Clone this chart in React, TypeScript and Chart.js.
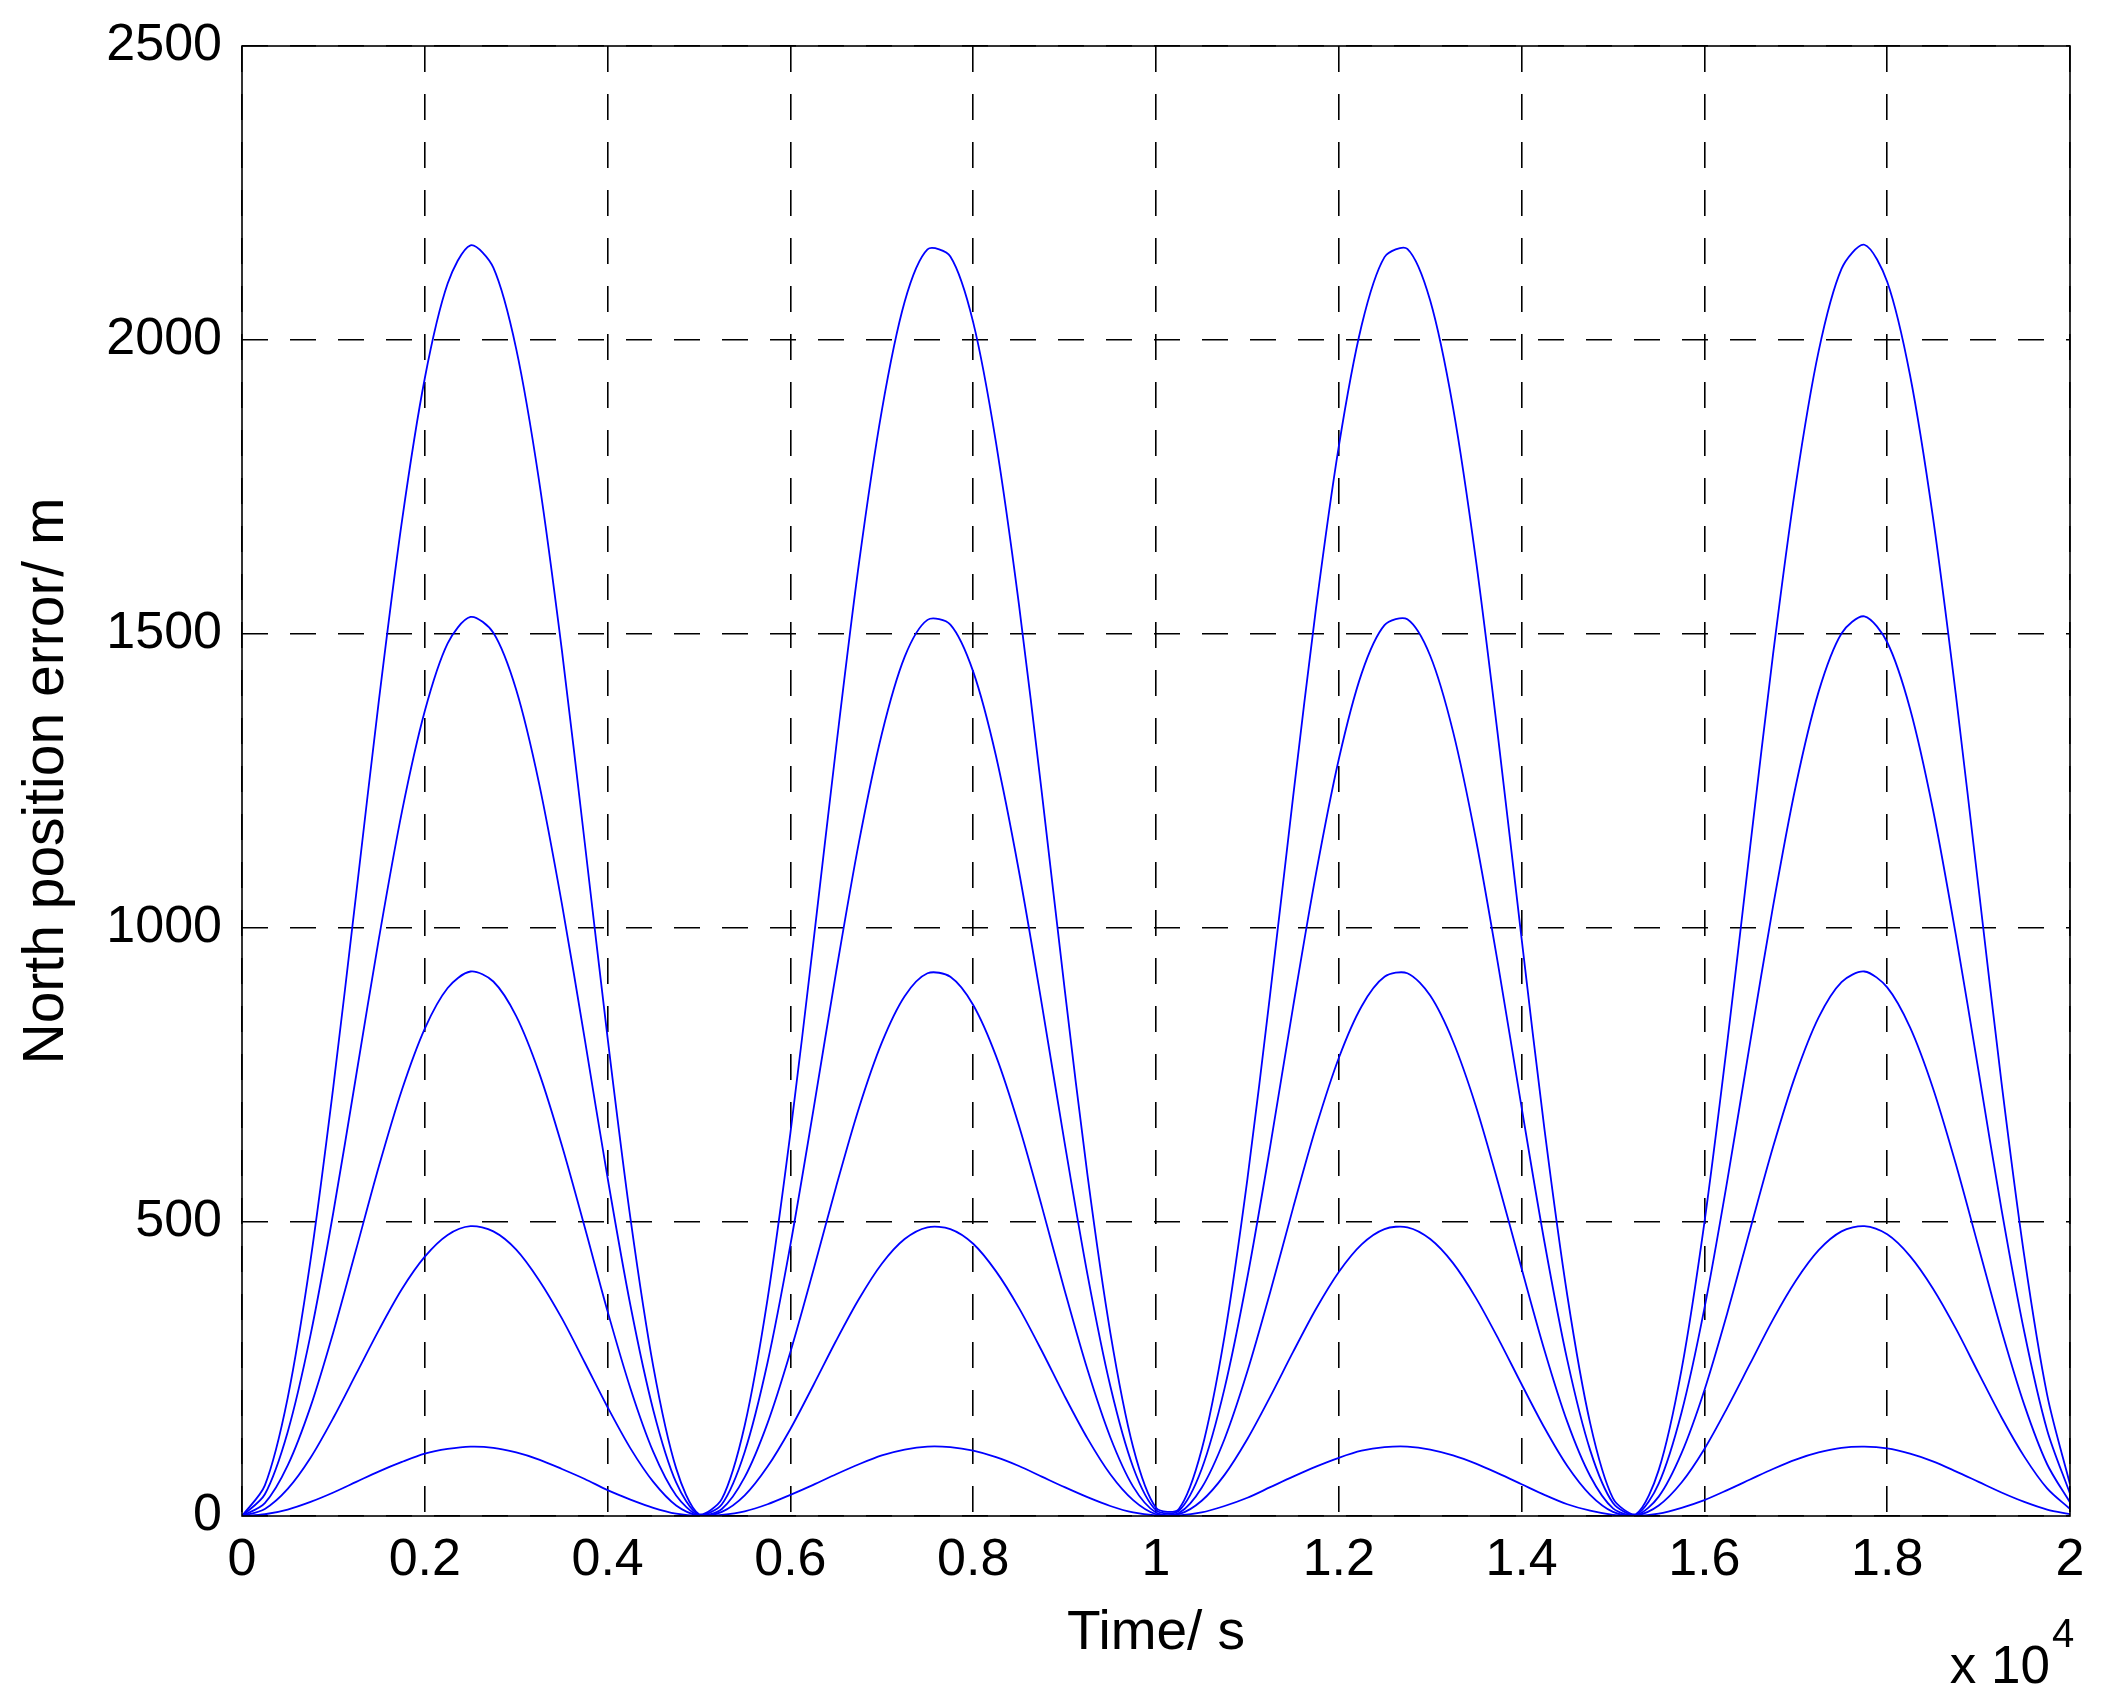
import React, { useEffect, useRef } from "react";
import { Chart, registerables } from "chart.js";

Chart.register(...registerables);

// Time samples (s)
const timeSec = [
  0, 250, 500, 750, 1000, 1250, 1500, 1750, 2000, 2250,
  2500, 2750, 3000, 3250, 3500, 3750, 4000, 4250, 4500, 4750,
  5000, 5250, 5500, 5750, 6000, 6250, 6500, 6750, 7000, 7250,
  7500, 7750, 8000, 8250, 8500, 8750, 9000, 9250, 9500, 9750,
  10000, 10250, 10500, 10750, 11000, 11250, 11500, 11750, 12000, 12250,
  12500, 12750, 13000, 13250, 13500, 13750, 14000, 14250, 14500, 14750,
  15000, 15250, 15500, 15750, 16000, 16250, 16500, 16750, 17000, 17250,
  17500, 17750, 18000, 18250, 18500, 18750, 19000, 19250, 19500, 19750,
  20000,
];

// North position error curves (m)
const errorCurve1 = [
  0, 52, 201, 435, 731, 1059, 1390, 1692, 1935, 2096,
  2161, 2123, 1985, 1761, 1472, 1145, 813, 506, 254, 81,
  3, 29, 154, 369, 651, 974, 1307, 1620, 1880, 2065,
  2154, 2142, 2030, 1825, 1551, 1231, 897, 580, 312, 117,
  14, 12, 113, 306, 573, 889, 1223, 1543, 1819, 2025,
  2141, 2155, 2067, 1885, 1626, 1315, 982, 658, 375, 158,
  30, 3, 78, 249, 499, 805, 1137, 1464, 1754, 1981,
  2121, 2162, 2099, 1940, 1699, 1398, 1068, 738, 442, 206, 54,
];
const errorCurve2 = [
  0, 37, 143, 308, 517, 750, 984, 1198, 1369, 1484,
  1529, 1502, 1405, 1246, 1041, 811, 575, 358, 180, 57,
  2, 20, 109, 261, 461, 689, 925, 1146, 1330, 1461,
  1524, 1516, 1436, 1292, 1097, 871, 635, 411, 221, 83,
  10, 9, 80, 217, 406, 629, 866, 1092, 1287, 1433,
  1515, 1525, 1463, 1334, 1151, 931, 695, 466, 265, 112,
  22, 2, 55, 176, 353, 570, 805, 1036, 1242, 1402,
  1501, 1530, 1486, 1373, 1202, 989, 756, 522, 313, 146, 38,
];
const errorCurve3 = [
  0, 22, 86, 186, 313, 454, 596, 725, 829, 898,
  926, 909, 850, 754, 630, 491, 348, 217, 109, 35,
  1, 12, 66, 158, 279, 417, 560, 694, 805, 884,
  923, 917, 869, 782, 664, 527, 384, 249, 134, 50,
  6, 5, 48, 131, 246, 381, 524, 661, 779, 867,
  917, 923, 885, 807, 697, 563, 421, 282, 160, 68,
  13, 1, 33, 107, 214, 345, 487, 627, 751, 848,
  908, 926, 899, 831, 728, 599, 457, 316, 189, 88, 23,
];
const errorCurve4 = [
  0, 12, 46, 99, 167, 242, 317, 386, 441, 478,
  493, 484, 453, 401, 336, 261, 185, 115, 58, 18,
  1, 7, 35, 84, 148, 222, 298, 369, 429, 471,
  491, 488, 463, 416, 354, 281, 204, 132, 71, 27,
  3, 3, 26, 70, 131, 203, 279, 352, 415, 462,
  488, 491, 471, 430, 371, 300, 224, 150, 85, 36,
  7, 1, 18, 57, 114, 184, 259, 334, 400, 452,
  484, 493, 479, 442, 387, 319, 243, 168, 101, 47, 12,
];
const errorCurve5 = [
  0, 3, 11, 24, 40, 58, 76, 92, 106, 114,
  118, 116, 108, 96, 80, 63, 44, 28, 14, 4,
  0, 2, 8, 20, 36, 53, 71, 88, 103, 113,
  118, 117, 111, 100, 85, 67, 49, 32, 17, 6,
  1, 1, 6, 17, 31, 49, 67, 84, 99, 111,
  117, 118, 113, 103, 89, 72, 54, 36, 20, 9,
  2, 0, 4, 14, 27, 44, 62, 80, 96, 108,
  116, 118, 115, 106, 93, 76, 58, 40, 24, 11, 3,
];

const allCurves = [errorCurve1, errorCurve2, errorCurve3, errorCurve4, errorCurve5];

const xAxisMin = 0;
const xAxisMax = 20000;
const xAxisStep = 2000;
const yAxisMin = 0;
const yAxisMax = 2500;
const yAxisStep = 500;
const xTitle = "Time/ s";
const yTitle = "North position error/ m";

const FONT = "'Liberation Sans', Arial, Helvetica, sans-serif";

const boxPlugin = {
  id: "matlabBox",
  afterDatasetsDraw(chart: any) {
    const { ctx, chartArea } = chart;
    const { left, top, right, bottom } = chartArea;
    ctx.save();
    ctx.setLineDash([]);
    ctx.strokeStyle = "#000";
    ctx.lineWidth = 1.6;
    ctx.strokeRect(left, top, right - left, bottom - top);
    ctx.restore();
  },
  afterDraw(chart: any) {
    const { ctx, chartArea } = chart;
    ctx.save();
    ctx.fillStyle = "#000";
    ctx.textBaseline = "alphabetic";
    ctx.font = `53px ${FONT}`;
    ctx.textAlign = "right";
    ctx.fillText("x 10", chartArea.right - 20, chartArea.bottom + 167);
    ctx.font = `40px ${FONT}`;
    ctx.textAlign = "left";
    ctx.fillText("4", chartArea.right - 18, chartArea.bottom + 131);
    ctx.restore();
  },
};

export default function App() {
  const canvasRef = useRef<HTMLCanvasElement | null>(null);

  useEffect(() => {
    const canvas = canvasRef.current;
    if (!canvas) return;
    const datasets = allCurves.map((curve, i) => ({
      label: `curve ${i + 1}`,
      data: timeSec.map((t, j) => ({ x: t, y: curve[j] })),
      borderColor: "#0000ff",
      backgroundColor: "#0000ff",
      borderWidth: 1.8,
      pointRadius: 0,
      fill: false,
      tension: 0.3,
    }));

    const chart = new Chart(canvas, {
      type: "line",
      data: { datasets },
      options: {
        animation: false,
        responsive: false,
        devicePixelRatio: 1,
        maintainAspectRatio: false,
        layout: { padding: { top: 45, right: 39, left: 0, bottom: 0 } },
        plugins: {
          legend: { display: false },
          tooltip: { enabled: false },
        },
        scales: {
          x: {
            type: "linear",
            min: xAxisMin,
            max: xAxisMax,
            afterFit: (scale: any) => {
              scale.height = 190;
            },
            ticks: {
              stepSize: xAxisStep,
              color: "#000",
              padding: 19,
              maxRotation: 0,
              autoSkip: false,
              font: { family: FONT, size: 52, lineHeight: 1.0 },
              callback: (v: any) => String(Math.round(Number(v) / 1000) / 10),
            },
            grid: {
              color: "#000",
              lineWidth: 1.6,
              drawTicks: false,
            },
            border: { display: false, dash: [26, 22] },
            title: {
              display: true,
              text: xTitle,
              color: "#000",
              font: { family: FONT, size: 55 },
              padding: { top: 0, bottom: 39 },
            },
          },
          y: {
            type: "linear",
            min: yAxisMin,
            max: yAxisMax,
            afterFit: (scale: any) => {
              scale.width = 242;
            },
            ticks: {
              stepSize: yAxisStep,
              color: "#000",
              padding: 20,
              font: { family: FONT, size: 52, lineHeight: 1.0 },
              callback: (v: any) => String(v),
            },
            grid: {
              color: "#000",
              lineWidth: 1.6,
              drawTicks: false,
            },
            border: { display: false, dash: [26, 22] },
            title: {
              display: true,
              text: yTitle,
              color: "#000",
              font: { family: FONT, size: 57 },
              padding: { top: 13, bottom: 0 },
            },
          },
        },
      },
      plugins: [boxPlugin],
    });
    return () => chart.destroy();
  }, []);

  return (
    <div style={{ position: "absolute", left: 0, top: 0, width: 2109, height: 1706, background: "#fff" }}>
      <canvas ref={canvasRef} width={2109} height={1706} style={{ width: 2109, height: 1706, display: "block" }} />
    </div>
  );
}
